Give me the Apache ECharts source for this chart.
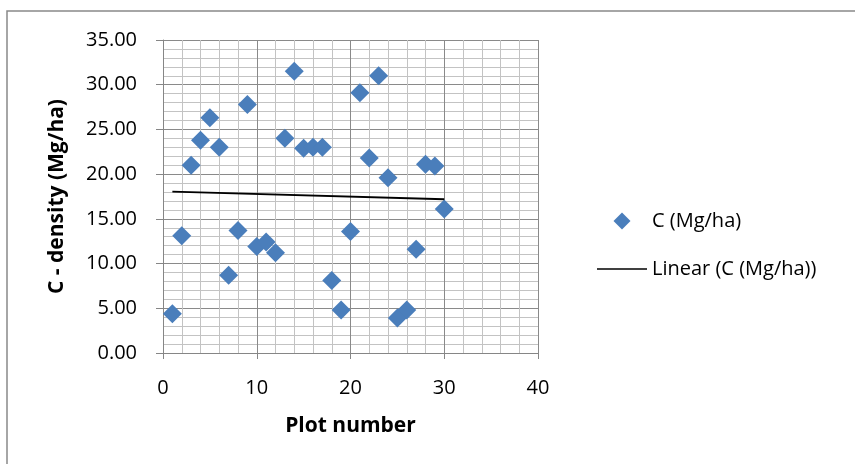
<!DOCTYPE html>
<html>
<head>
<meta charset="utf-8">
<script src="https://cdn.jsdelivr.net/npm/echarts@6/dist/echarts.min.js"></script>
<style>
  html, body { margin: 0; padding: 0; background: #fff; }
  #chart { width: 855px; height: 464px; }
</style>
</head>
<body>
<div id="chart"></div>
<script>
// plot numbers and carbon density
const plotNumbers = [1, 2, 3, 4, 5, 6, 7, 8, 9, 10, 11, 12, 13, 14, 15,
                     16, 17, 18, 19, 20, 21, 22, 23, 24, 25, 26, 27, 28, 29, 30];
const carbonDensity = [4.4, 13.1, 21.0, 23.8, 26.3, 23.0, 8.7, 13.7, 27.8, 11.9,
                       12.4, 11.2, 24.0, 31.5, 22.9, 23.0, 23.0, 8.1, 4.8, 13.6,
                       29.1, 21.8, 31.0, 19.6, 3.9, 4.8, 11.6, 21.1, 20.9, 16.1];
// trend line end points as drawn
const trendX = [1, 30];
const trendY = [18.04, 17.19];

const FONT = 'Open Sans';
const chart = echarts.init(document.getElementById('chart'));

const option = {
    backgroundColor: '#fff',
    animation: false,
    textStyle: { fontFamily: FONT },
    graphic: [{
        type: 'rect',
        shape: { x: 7, y: 11, width: 900, height: 500 },
        style: { fill: 'none', stroke: '#898989', lineWidth: 1.5 },
        silent: true
    }],
    grid: { left: 163, top: 40, right: 317, bottom: 111 },
    legend: {
        orient: 'vertical',
        left: 592,
        top: 206,
        itemWidth: 50,
        itemHeight: 17,
        itemGap: 28,
        symbolKeepAspect: true,
        textStyle: { fontFamily: FONT, fontSize: 20, color: '#000' },
        data: [
            { name: 'C (Mg/ha)', icon: 'path://M1,0 L2,1 L1,2 L0,1 Z' },
            { name: 'Linear (C (Mg/ha))', icon: 'path://M0,0 L50,0 L50,1.6 L0,1.6 Z' }
        ]
    },
    xAxis: {
        type: 'value',
        min: 0,
        max: 40,
        interval: 10,
        name: 'Plot number',
        nameLocation: 'middle',
        nameGap: 63,
        nameTextStyle: { fontFamily: FONT, fontSize: 21, fontWeight: 'bold', color: '#000' },
        axisLine: { show: true, lineStyle: { color: '#868686', width: 1 } },
        axisTick: { show: true, length: 6, lineStyle: { color: '#868686' } },
        axisLabel: { fontFamily: FONT, fontSize: 20, color: '#000', margin: 25 },
        splitLine: { show: true, lineStyle: { color: '#8a8a8a', width: 1 } },
        minorTick: { show: false, splitNumber: 5 },
        minorSplitLine: { show: true, lineStyle: { color: '#c3c3c3', width: 1 } }
    },
    yAxis: {
        type: 'value',
        min: 0,
        max: 35,
        interval: 5,
        name: 'C - density (Mg/ha)',
        nameLocation: 'middle',
        nameGap: 95,
        nameTextStyle: { fontFamily: FONT, fontSize: 21, fontWeight: 'bold', color: '#000' },
        axisLine: { show: true, lineStyle: { color: '#868686', width: 1 } },
        axisTick: { show: true, length: 7, lineStyle: { color: '#868686' } },
        axisLabel: {
            fontFamily: FONT, fontSize: 20, color: '#000', margin: 26,
            formatter: v => v.toFixed(2)
        },
        splitLine: { show: true, lineStyle: { color: '#8a8a8a', width: 1 } },
        minorTick: { show: false, splitNumber: 5 },
        minorSplitLine: { show: true, lineStyle: { color: '#c3c3c3', width: 1 } }
    },
    series: [
        {
            name: 'C (Mg/ha)',
            type: 'scatter',
            symbol: 'diamond',
            symbolSize: 19,
            itemStyle: { color: '#4A7EBB', opacity: 1 },
            data: plotNumbers.map((x, i) => [x, carbonDensity[i]])
        },
        {
            name: 'Linear (C (Mg/ha))',
            type: 'line',
            symbol: 'none',
            lineStyle: { color: '#000', width: 1.8 },
            itemStyle: { color: '#000' },
            data: trendX.map((x, i) => [x, trendY[i]]),
            z: 3
        }
    ]
};

chart.setOption(option);
</script>
</body>
</html>
